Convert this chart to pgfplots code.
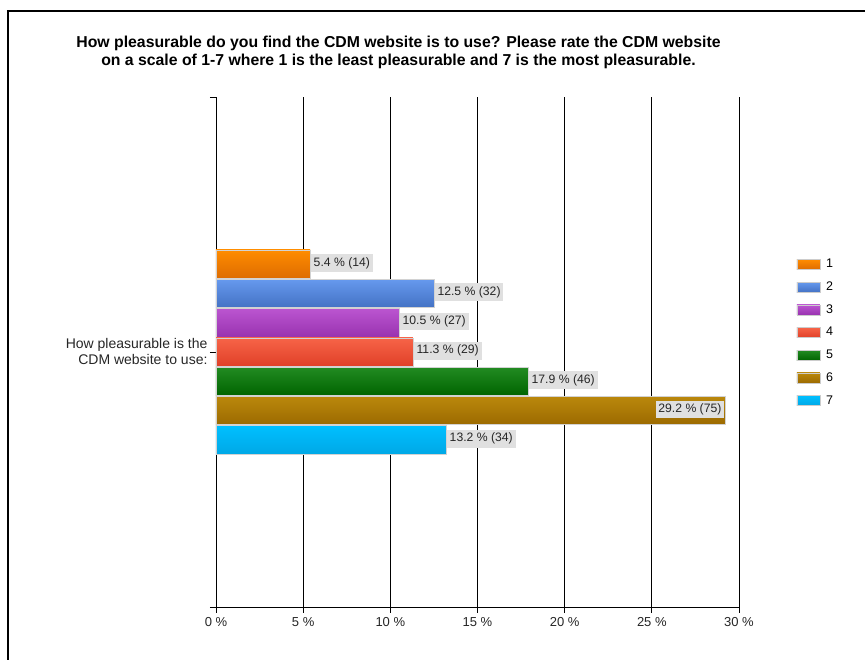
\documentclass[border=0pt]{standalone}
\usepackage{pgfplots}
\pgfplotsset{compat=1.18}
\usepackage{fontspec}
\setmainfont{Liberation Sans}
\definecolor{t1}{HTML}{FF8C00}\definecolor{b1}{HTML}{DE6C00}
\definecolor{t2}{HTML}{6699EE}\definecolor{b2}{HTML}{4472C4}
\definecolor{t3}{HTML}{BB55D0}\definecolor{b3}{HTML}{9933B0}
\definecolor{t4}{HTML}{F76448}\definecolor{b4}{HTML}{E04028}
\definecolor{t5}{HTML}{228B22}\definecolor{b5}{HTML}{006400}
\definecolor{t6}{HTML}{BA880C}\definecolor{b6}{HTML}{9C6A00}
\definecolor{t7}{HTML}{00BFFF}\definecolor{b7}{HTML}{00A8E6}
\definecolor{lblbg}{HTML}{E0E0E0}
\begin{document}
\begin{tikzpicture}[x=1pt,y=1pt]
\path[use as bounding box] (0,0) rectangle (865,660);
\draw[line width=2.5pt] (8,0) -- (8,649);
\draw[line width=1.8pt] (6.75,649) -- (865,649);
\node[font=\bfseries\fontsize{15.8}{18}\selectfont, align=center] at (398.5,608) {How pleasurable do you find the CDM website is to use? Please rate the CDM website\\on a scale of 1-7 where 1 is the least pleasurable and 7 is the most pleasurable.};
\begin{axis}[at={(216pt,53pt)}, anchor=south west,
  width=523pt, height=510pt, scale only axis,
  xmin=0, xmax=30, ymin=-1, ymax=1,
  xbar, bar width=28.3pt,
  axis x line*=bottom, axis y line*=left,
  axis line style={black, line width=0.8pt},
  xtick={0,5,...,30}, xmajorgrids,
  grid style={black, line width=0.7pt},
  ytick={-1,0,1},
  yticklabels={,{How pleasurable is the\\CDM website to use:},},
  yticklabel style={align=right, font=\fontsize{14}{16}\selectfont, text=black!85, xshift=1pt},
  xticklabel={\pgfmathprintnumber[assume math mode=true]{\tick} \%},
  xticklabel style={font=\fontsize{13}{14}\selectfont, text=black!85, yshift=-1pt},
  tick align=outside, major tick length=6pt,
  tick style={black, line width=0.7pt},
  nodes near coords, point meta=explicit symbolic,
  every node near coord/.append style={anchor=west, fill=lblbg, text=black!85,
    font=\fontsize{12.2}{13}\selectfont, inner xsep=2.8pt, inner ysep=3.2pt, xshift=0.5pt, yshift=1.2pt},
  legend style={at={(1.104,0.688)}, anchor=north west, draw=none, fill=none,
    font=\fontsize{12.5}{13}\selectfont, row sep=10.4pt,
    nodes={inner sep=1pt, text height=8.5pt, text depth=1.8pt},
    /tikz/every odd column/.append style={column sep=5pt}},
  legend cell align=left,
  legend image code/.code={\draw[#1, draw=gray!40, line width=0.6pt] (0pt,-5pt) rectangle (23pt,5pt);},
]
\addplot[draw=gray!35, line width=0.6pt, top color=t1, bottom color=b1, bar shift=87.9pt] coordinates {(5.4,0) [5.4 \% (14)]};
\addlegendentry{1}
\addplot[draw=gray!35, line width=0.6pt, top color=t2, bottom color=b2, bar shift=58.6pt] coordinates {(12.5,0) [12.5 \% (32)]};
\addlegendentry{2}
\addplot[draw=gray!35, line width=0.6pt, top color=t3, bottom color=b3, bar shift=29.3pt] coordinates {(10.5,0) [10.5 \% (27)]};
\addlegendentry{3}
\addplot[draw=gray!35, line width=0.6pt, top color=t4, bottom color=b4, bar shift=0pt] coordinates {(11.3,0) [11.3 \% (29)]};
\addlegendentry{4}
\addplot[draw=gray!35, line width=0.6pt, top color=t5, bottom color=b5, bar shift=-29.3pt] coordinates {(17.9,0) [17.9 \% (46)]};
\addlegendentry{5}
\addplot[draw=gray!35, line width=0.6pt, top color=t6, bottom color=b6, bar shift=-58.6pt,
  every node near coord/.append style={anchor=east, xshift=-1pt, yshift=0pt}] coordinates {(29.2,0) [29.2 \% (75)]};
\addlegendentry{6}
\addplot[draw=gray!35, line width=0.6pt, top color=t7, bottom color=b7, bar shift=-87.9pt] coordinates {(13.2,0) [13.2 \% (34)]};
\addlegendentry{7}
\end{axis}
\end{tikzpicture}
\end{document}
